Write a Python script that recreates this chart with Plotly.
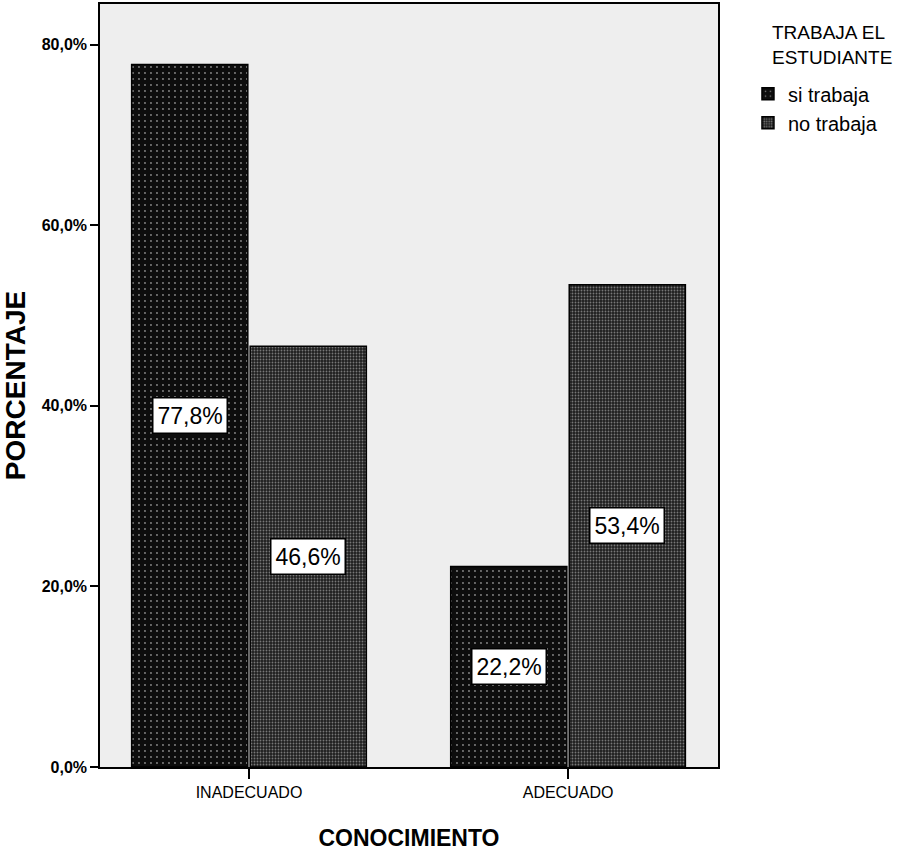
import plotly.graph_objects as go

# Porcentaje de estudiantes según nivel de conocimiento y situación laboral
categorias = ["INADECUADO", "ADECUADO"]
si_trabaja = [77.8, 22.2]
no_trabaja = [46.6, 53.4]
series = [
    ("si trabaja", si_trabaja, "#0d0d0d", "#ffffff", 0.08, 6),
    ("no trabaja", no_trabaja, "#1e1e1e", "#d0d0d0", 0.3, 3),
]
y_ticks = [0, 20, 40, 60, 80]
y_ticktext = [f"{v:.1f}%".replace(".", ",") for v in y_ticks]

sans = "Liberation Sans, Arial, sans-serif"

fig = go.Figure()
for nombre, valores, fondo, punto, solidez, tam in series:
    fig.add_trace(go.Bar(
        name=nombre,
        x=categorias,
        y=valores,
        marker=dict(
            color=fondo,
            line=dict(color="#000000", width=1.5),
            pattern=dict(shape=".", fgcolor=punto, bgcolor=fondo,
                         size=tam, solidity=solidez, fillmode="overlay"),
        ),
        hoverinfo="skip",
    ))

# Etiquetas de valor en recuadro blanco, centradas en cada barra
ancho = 0.37
for i, (nombre, valores, *_r) in enumerate(series):
    desplaz = (-0.5 + i) * ancho
    for j, v in enumerate(valores):
        fig.add_annotation(
            x=j + desplaz, y=v / 2, xref="x", yref="y",
            text=f"{v:.1f}%".replace(".", ","),
            showarrow=False,
            font=dict(family=sans, size=23, color="#000000"),
            bgcolor="#ffffff", bordercolor="#000000", borderwidth=1.5, borderpad=4,
        )

# Título de la leyenda
fig.add_annotation(
    x=1.084, y=0.979, xref="paper", yref="paper",
    xanchor="left", yanchor="top", align="left",
    text="TRABAJA EL<br>ESTUDIANTE", showarrow=False,
    font=dict(family=sans, size=19, color="#000000"),
)

fig.update_layout(
    width=902, height=851,
    margin=dict(l=100, r=184, t=4, b=84),
    paper_bgcolor="#ffffff",
    plot_bgcolor="#eeeeee",
    barmode="group",
    bargap=0.257,
    bargroupgap=0.02,
    showlegend=True,
    legend=dict(
        font=dict(family=sans, size=20, color="#000"),
        x=1.0485, xanchor="left", y=0.908, yanchor="top",
        itemwidth=30, tracegroupgap=0,
        bgcolor="rgba(0,0,0,0)",
    ),
    xaxis=dict(
        range=[-0.467, 1.47],
        automargin=False,
        showline=True, linecolor="#000", linewidth=1.5, mirror=True,
        ticks="outside", ticklen=10, tickcolor="#000", tickwidth=1.5,
        tickfont=dict(family=sans, size=16, color="#000"),
        title=dict(text="<b>CONOCIMIENTO</b>", font=dict(family=sans, size=23, color="#000"), standoff=34),
    ),
    yaxis=dict(
        range=[0, 84.5],
        automargin=False,
        tickvals=y_ticks, ticktext=y_ticktext,
        showgrid=False, zeroline=False,
        showline=True, linecolor="#000", linewidth=1.5, mirror=True,
        ticks="outside", ticklen=8, tickcolor="#000", tickwidth=1.5,
        tickfont=dict(family=sans, size=16, color="#000", weight="bold"),
        title=dict(text="<b>PORCENTAJE</b>", font=dict(family=sans, size=28, color="#000"), standoff=14),
    ),
)

fig.write_html("out.html")
